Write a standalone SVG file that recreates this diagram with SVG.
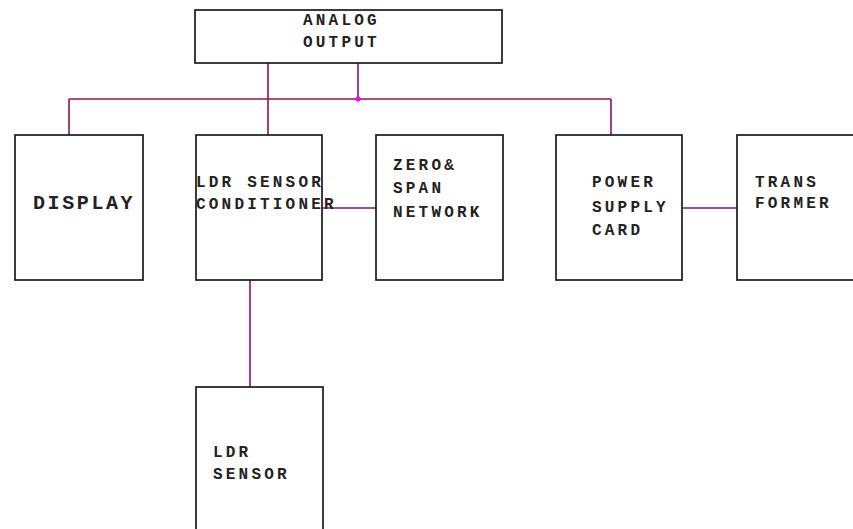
<svg xmlns="http://www.w3.org/2000/svg" width="853" height="529" viewBox="0 0 853 529">
<style>
.box{fill:#fff;stroke:#1a1a1a;stroke-width:1.7}
.t{font-family:"Liberation Mono","Courier New",monospace;font-weight:bold;font-size:16px;letter-spacing:3.2px;fill:#222}
.big{font-size:20px;letter-spacing:2.6px}
.c{stroke:#8e1558;stroke-width:1.6;fill:none}
</style>
<rect width="853" height="529" fill="#fff"/>
<g id="connectors">
<path class="c" d="M268 63V135M358 63V99M69 99H611M69 99V135M611 99V135M322 208H376M682 208H737M250 280V387"/>
<circle cx="358" cy="99" r="2.6" fill="#ff00ff"/>
</g>
<g id="analog-output">
<rect class="box" x="195" y="10" width="307" height="53"/>
<text class="t" x="303" y="25">ANALOG</text>
<text class="t" x="303" y="47">OUTPUT</text>
</g>
<g id="display">
<rect class="box" x="15" y="135" width="128" height="145"/>
<text class="t big" x="33" y="209">DISPLAY</text>
</g>
<g id="ldr-sensor-conditioner">
<rect class="box" x="196" y="135" width="126" height="145"/>
<text class="t" x="196" y="187">LDR SENSOR</text>
<text class="t" x="196" y="209">CONDITIONER</text>
</g>
<g id="zero-span-network">
<rect class="box" x="376" y="135" width="127" height="145"/>
<text class="t" x="393" y="170">ZERO&amp;</text>
<text class="t" x="393" y="193">SPAN</text>
<text class="t" x="393" y="217">NETWORK</text>
</g>
<g id="power-supply-card">
<rect class="box" x="556" y="135" width="126" height="145"/>
<text class="t" x="592" y="187">POWER</text>
<text class="t" x="592" y="212">SUPPLY</text>
<text class="t" x="592" y="235">CARD</text>
</g>
<g id="transformer">
<rect class="box" x="737" y="135" width="130" height="145"/>
<text class="t" x="755" y="187">TRANS</text>
<text class="t" x="755" y="208">FORMER</text>
</g>
<g id="ldr-sensor">
<rect class="box" x="196" y="387" width="127" height="160"/>
<text class="t" x="213" y="457">LDR</text>
<text class="t" x="213" y="479">SENSOR</text>
</g>
</svg>
